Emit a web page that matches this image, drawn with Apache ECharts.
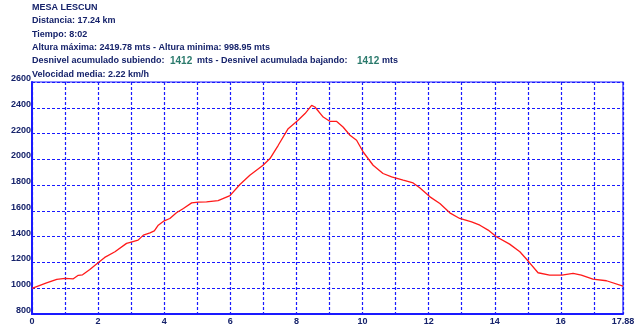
<!DOCTYPE html>
<html>
<head>
<meta charset="utf-8">
<script src="https://cdn.jsdelivr.net/npm/echarts@6/dist/echarts.min.js"></script>
<style>html,body{margin:0;padding:0;background:#fff}#c{width:640px;height:330px}</style>
</head>
<body>
<div id="c"></div>
<script>
var distanceKm = [0, 0.44, 0.75, 1.0, 1.25, 1.40, 1.53, 1.75, 2.0, 2.2, 2.51, 2.86, 3.0, 3.21, 3.37, 3.57, 3.70, 3.82, 4.0, 4.17, 4.37, 4.58, 4.83, 5.03, 5.28, 5.63, 5.99, 6.29, 6.59, 6.99, 7.20, 7.45, 7.75, 8.05, 8.26, 8.46, 8.56, 8.81, 9.01, 9.21, 9.41, 9.62, 9.82, 10.02, 10.32, 10.62, 10.88, 11.23, 11.53, 11.73, 12.04, 12.34, 12.64, 12.94, 13.30, 13.55, 13.80, 14.05, 14.45, 14.76, 15.03, 15.31, 15.66, 16.03, 16.37, 16.62, 16.97, 17.38, 17.88];
var elevationM = [999, 1042, 1069, 1076, 1073, 1100, 1104, 1146, 1197, 1239, 1283, 1348, 1358, 1373, 1412, 1430, 1445, 1489, 1523, 1541, 1585, 1619, 1662, 1668, 1670, 1680, 1718, 1805, 1877, 1954, 2006, 2109, 2238, 2303, 2355, 2419, 2406, 2328, 2295, 2295, 2251, 2187, 2148, 2057, 1954, 1890, 1864, 1838, 1817, 1780, 1709, 1657, 1585, 1541, 1515, 1489, 1451, 1399, 1342, 1283, 1205, 1120, 1102, 1102, 1115, 1102, 1071, 1058, 1017];
var xMax = 17.88;
var yTicks = [800, 1000, 1200, 1400, 1600, 1800, 2000, 2200, 2400, 2600];
var infoLines = [
  'MESA LESCUN',
  'Distancia: 17.24 km',
  'Tiempo: 8:02',
  'Altura m\u00e1xima: 2419.78 mts - Altura minima: 998.95 mts'
];
var descentLine = ['Desnivel acumulado subiendo:', '1412', 'mts - Desnivel acumulada bajando:', '1412', 'mts'];
var speedLine = 'Velocidad media: 2.22 km/h';

var navy = '#16236b';
var teal = '#2b7a6c';
var blue = '#1a1aff';
var fontFam = '"Liberation Sans", Arial, sans-serif';

var pts = distanceKm.map(function (d, i) { return [d, elevationM[i]]; });

var lineYs = [7.5, 21, 34.5, 48, 61, 74.5];
var graphics = [];
infoLines.forEach(function (t, i) {
  graphics.push({ type: 'text', x: 32, y: lineYs[i], style: { text: t, fill: navy, font: 'bold 9px ' + fontFam, textVerticalAlign: 'middle' } });
});
var segX = [32, 170, 197, 357, 382];
descentLine.forEach(function (t, i) {
  var isNum = (i === 1 || i === 3);
  graphics.push({ type: 'text', x: segX[i], y: lineYs[4], style: { text: t, fill: isNum ? teal : navy, font: (isNum ? 'bold 10px ' : 'bold 9px ') + fontFam, textVerticalAlign: 'middle' } });
});
graphics.push({ type: 'text', x: 32, y: lineYs[5], style: { text: speedLine, fill: navy, font: 'bold 9px ' + fontFam, textVerticalAlign: 'middle' } });

var chart = echarts.init(document.getElementById('c'), null, { renderer: 'canvas' });
chart.setOption({
  animation: false,
  backgroundColor: '#ffffff',
  graphic: graphics,
  grid: { left: 32, right: 17, top: 82, bottom: 16, show: true, borderColor: blue, borderWidth: 1.2, backgroundColor: 'transparent' },
  xAxis: {
    type: 'value', min: 0, max: xMax, interval: 1,
    axisLine: { show: true, onZero: false, lineStyle: { color: blue, width: 2 } },
    axisTick: { show: false },
    splitLine: { show: true, lineStyle: { color: blue, width: 1.2, type: [3, 2] } },
    axisLabel: {
      color: navy, fontFamily: fontFam, fontWeight: 'bold', fontSize: 9, margin: 3,
      showMinLabel: true, showMaxLabel: true,
      formatter: function (v) {
        if (Math.abs(v - xMax) < 1e-6) return xMax.toFixed(2);
        return (Math.round(v) % 2 === 0) ? String(Math.round(v)) : '';
      }
    }
  },
  yAxis: {
    type: 'value', min: yTicks[0], max: yTicks[yTicks.length - 1], interval: 200,
    axisLine: { show: true, lineStyle: { color: blue, width: 2 } },
    axisTick: { show: false },
    splitLine: { show: true, lineStyle: { color: blue, width: 1.2, type: [3, 2] } },
    axisLabel: { color: navy, fontFamily: fontFam, fontWeight: 'bold', fontSize: 9, margin: 1, verticalAlign: 'bottom', lineHeight: 7,
      formatter: function (v) { return String(v); } }
  },
  series: [{
    type: 'line', data: pts, showSymbol: false, symbol: 'none',
    lineStyle: { color: '#ff1a1a', width: 1.3 }, z: 5
  }]
});
</script>
</body>
</html>
